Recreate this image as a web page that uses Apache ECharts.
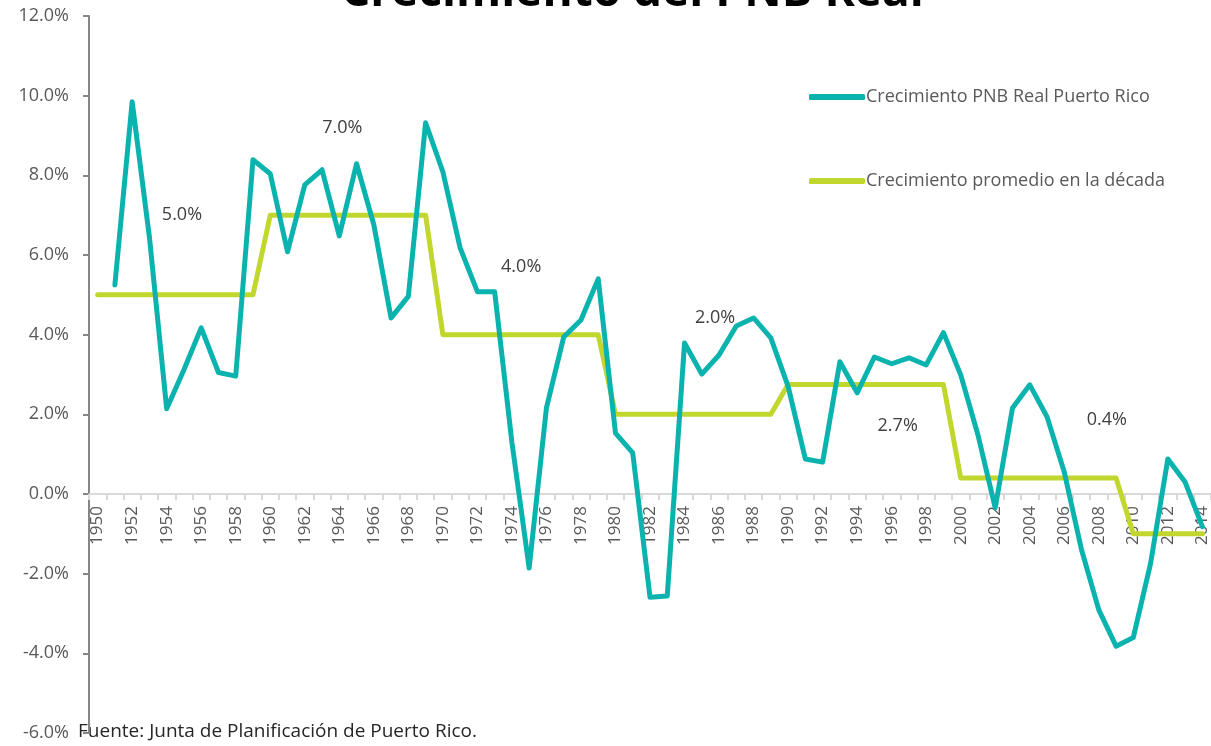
<!DOCTYPE html>
<html>
<head>
<meta charset="utf-8">
<script src="https://cdn.jsdelivr.net/npm/echarts@6/dist/echarts.min.js"></script>
<style>html,body{margin:0;padding:0;background:#fff;}#c{width:1211px;height:746px;}</style>
</head>
<body>
<div id="c"></div>
<script>
// ---- data ----
const years = [];
for (let y = 1950; y <= 2014; y++) years.push(String(y));

const growthPR = [
  null, 5.25, 9.85, 6.45, 2.14, 3.12, 4.17, 3.05, 2.96, 8.39,
  8.04, 6.08, 7.76, 8.14, 6.48, 8.29, 6.76, 4.42, 4.96, 9.32,
  8.09, 6.18, 5.08, 5.08, 1.30, -1.86, 2.16, 3.94, 4.37, 5.40,
  1.53, 1.03, -2.59, -2.56, 3.79, 3.01, 3.49, 4.22, 4.42, 3.92,
  2.70, 0.88, 0.80, 3.32, 2.54, 3.44, 3.27, 3.42, 3.24, 4.05,
  2.99, 1.48, -0.35, 2.16, 2.74, 1.94, 0.55, -1.40, -2.91, -3.82,
  -3.60, -1.74, 0.88, 0.30, -0.82
];

const decadeStarts = [1950, 1960, 1970, 1980, 1990, 2000, 2010];
const decadeAvg    = [5.0, 7.0, 4.0, 2.0, 2.75, 0.4, -1.0];
const decadeLabels = ['5.0%', '7.0%', '4.0%', '2.0%', '2.7%', '0.4%'];
// annotation anchor (year, level in %) for each decade label
const labelYears  = ['1955', '1964', '1975', '1986', '1996', '2008'];
const labelLevels = [7.0, 9.2, 5.7, 4.42, 1.71, 1.86];

const seriesNames = ['Crecimiento PNB Real Puerto Rico', 'Crecimiento promedio en la década'];
const titleText = 'Crecimiento del PNB Real';
const sourceText = 'Fuente: Junta de Planificación de Puerto Rico.';

// ---- build ----
const decadeSeries = years.map(y => {
  const yr = +y;
  let idx = 0;
  for (let i = 0; i < decadeStarts.length; i++) if (yr >= decadeStarts[i]) idx = i;
  return decadeAvg[idx];
});

const labelNudge = [[-2, 0], [3, 0], [-8, 0], [-4, 0], [6, 0], [8, 0]];
const markData = labelYears.map((y, i) => ({
  coord: [y, labelLevels[i]],
  label: { formatter: decadeLabels[i], offset: labelNudge[i] }
}));

const FONT = '"Open Sans", sans-serif';
const TEAL = '#0BB3AE';
const LIME = '#C1D72E';
const GRID_L = 89, GRID_R = 0, GRID_T = 16, GRID_B = 13;
const H = 746;
const Y_MIN = -6, Y_MAX = 12;
const zeroY = GRID_T + (Y_MAX / (Y_MAX - Y_MIN)) * (H - GRID_T - GRID_B);

const chart = echarts.init(document.getElementById('c'), null, { renderer: 'canvas' });
chart.setOption({
  animation: false,
  backgroundColor: '#ffffff',
  title: {
    text: titleText,
    left: 336,
    top: -35,
    textStyle: { fontFamily: FONT, fontWeight: 'bold', fontSize: 46, color: '#000000' }
  },
  legend: {
    orient: 'vertical',
    left: 804,
    top: 83,
    itemGap: 66,
    icon: 'roundRect',
    itemWidth: 56,
    itemHeight: 6,
    textStyle: { fontFamily: FONT, fontSize: 18, color: '#595959', padding: [0, 0, 0, -4] },
    data: seriesNames
  },
  grid: [
    { left: GRID_L, right: GRID_R, top: GRID_T, bottom: GRID_B, containLabel: false, outerBoundsMode: 'none' },
    { left: GRID_L, right: GRID_R, top: GRID_T, bottom: H - zeroY, containLabel: false, outerBoundsMode: 'none' }
  ],
  xAxis: [
    {
      type: 'category',
      gridIndex: 0,
      data: years,
      boundaryGap: true,
      axisLine: { onZero: true, lineStyle: { color: '#d9d9d9', width: 2 } },
      axisTick: { show: true, alignWithLabel: false, interval: 0, length: 6, lineStyle: { color: '#d9d9d9', width: 2 } },
      axisLabel: { show: false },
      splitLine: { show: false }
    },
    {
      type: 'category',
      gridIndex: 1,
      data: years,
      boundaryGap: true,
      position: 'bottom',
      axisLine: { show: false, onZero: false },
      axisTick: { show: false },
      axisLabel: { interval: 1, rotate: 90, fontFamily: FONT, fontSize: 17, color: '#595959', margin: 12 },
      splitLine: { show: false }
    }
  ],
  yAxis: [
    {
      type: 'value',
      gridIndex: 0,
      min: Y_MIN, max: Y_MAX, interval: 2,
      axisLine: { show: true, lineStyle: { color: '#868686', width: 2 } },
      axisTick: { show: true, length: 6, lineStyle: { color: '#868686', width: 2 } },
      axisLabel: { fontFamily: FONT, fontSize: 18, color: '#595959', margin: 20,
        formatter: v => v.toFixed(1) + '%' },
      splitLine: { show: false }
    },
    {
      type: 'value',
      gridIndex: 1,
      show: false,
      min: 0, max: 1
    }
  ],
  series: [
    {
      name: seriesNames[0],
      type: 'line',
      data: growthPR,
      symbol: 'none',
      lineStyle: { color: TEAL, width: 5, cap: 'round', join: 'round' },
      itemStyle: { color: TEAL },
      z: 3
    },
    {
      name: seriesNames[1],
      type: 'line',
      data: decadeSeries,
      symbol: 'none',
      lineStyle: { color: LIME, width: 5, cap: 'round', join: 'round' },
      itemStyle: { color: LIME },
      z: 2,
      markPoint: {
        symbol: 'circle',
        symbolSize: 0,
        silent: true,
        label: { show: true, position: 'inside', fontFamily: FONT, fontSize: 18, color: '#404040' },
        data: markData
      }
    }
  ],
  graphic: [
    {
      type: 'text',
      left: 78,
      top: 722,
      style: { text: sourceText, fontFamily: FONT, fontSize: 19, fill: '#262626' }
    }
  ]
});
</script>
</body>
</html>
